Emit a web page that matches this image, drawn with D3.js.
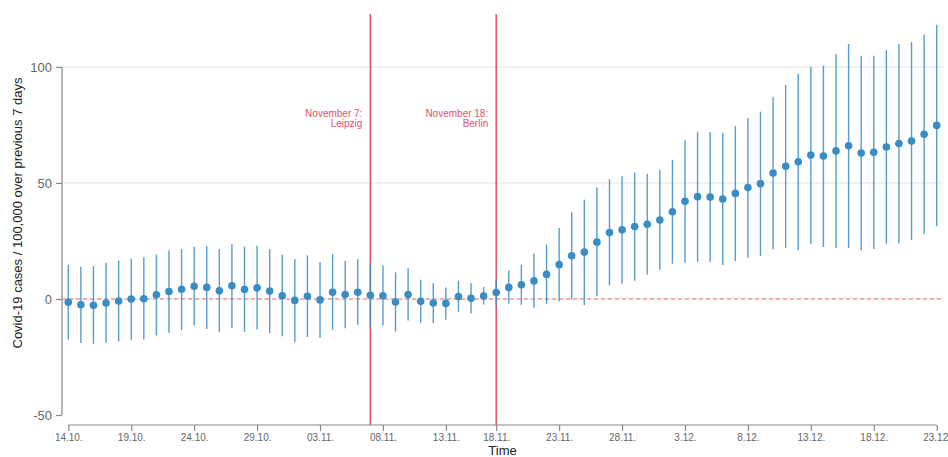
<!DOCTYPE html>
<html>
<head>
<meta charset="utf-8">
<script src="https://cdn.jsdelivr.net/npm/d3@7"></script>
<style>
  body { margin: 0; background: #fff; }
  svg { display: block; font-family: "Liberation Sans", Arial, Helvetica, sans-serif; }
</style>
</head>
<body>
<div class="chart"></div>
<script>
// days on the x axis (15.11. is missing in the source data)
var days = [
  "14.10", "15.10", "16.10", "17.10", "18.10", "19.10", "20.10", "21.10", "22.10", "23.10",
  "24.10", "25.10", "26.10", "27.10", "28.10", "29.10", "30.10", "31.10", "01.11", "02.11",
  "03.11", "04.11", "05.11", "06.11", "07.11", "08.11", "09.11", "10.11", "11.11", "12.11",
  "13.11", "14.11", "16.11", "17.11", "18.11", "19.11", "20.11", "21.11", "22.11", "23.11",
  "24.11", "25.11", "26.11", "27.11", "28.11", "29.11", "30.11", "01.12", "02.12", "03.12",
  "04.12", "05.12", "06.12", "07.12", "08.12", "09.12", "10.12", "11.12", "12.12", "13.12",
  "14.12", "15.12", "16.12", "17.12", "18.12", "19.12", "20.12", "21.12", "22.12", "23.12"
];

// estimated effect (cases / 100,000 over previous 7 days)
var estimate = [
  -1.4, -2.5, -2.7, -1.7, -0.9, 0.0, 0.1, 1.8, 3.2, 4.2,
  5.5, 5.0, 3.5, 5.7, 4.1, 4.8, 3.4, 1.4, -0.6, 1.2,
  -0.4, 2.9, 1.9, 2.9, 1.6, 1.4, -1.3, 1.9, -1.0, -1.7,
  -1.9, 1.1, 0.3, 1.3, 2.8, 5.0, 6.1, 7.8, 10.6, 14.8,
  18.6, 20.2, 24.5, 28.6, 29.8, 31.2, 32.2, 34.0, 37.6, 42.1,
  44.1, 43.9, 43.1, 45.5, 48.0, 49.7, 54.3, 57.2, 59.1, 62.0,
  61.6, 63.8, 66.0, 62.9, 63.2, 65.5, 67.0, 68.1, 71.0, 74.8
];

// lower end of the interval
var lower = [
  -17.5, -19.0, -19.3, -18.9, -18.3, -17.6, -17.5, -15.7, -14.7, -13.4,
  -11.4, -12.9, -14.2, -12.6, -14.2, -13.0, -14.7, -16.1, -18.5, -16.4,
  -16.8, -13.2, -12.6, -11.1, -12.1, -11.4, -14.1, -9.3, -10.3, -10.3,
  -8.9, -5.5, -6.3, -2.4, -2.6, -2.1, -2.5, -4.0, -2.1, -1.0,
  -0.1, -2.6, 1.2, 5.8, 6.6, 7.9, 10.5, 12.6, 15.2, 15.6,
  15.9, 15.9, 14.6, 16.3, 17.8, 18.6, 21.4, 22.0, 21.1, 23.7,
  22.4, 22.0, 22.0, 21.0, 21.5, 23.6, 24.0, 25.4, 28.0, 31.5
];

// upper end of the interval
var upper = [
  14.7, 13.9, 14.2, 15.6, 16.6, 17.3, 18.0, 19.2, 21.0, 21.5,
  22.5, 22.8, 21.5, 23.6, 22.5, 22.9, 21.5, 19.1, 17.2, 18.8,
  15.9, 19.3, 16.5, 17.1, 15.2, 14.4, 11.5, 13.2, 8.3, 6.8,
  4.9, 7.9, 6.9, 5.2, 8.3, 12.3, 14.8, 19.6, 23.4, 30.6,
  37.4, 42.8, 48.1, 51.6, 53.0, 54.5, 53.9, 55.6, 60.0, 68.4,
  72.0, 71.9, 71.5, 74.5, 78.0, 80.7, 87.0, 92.2, 97.0, 100.0,
  100.6, 105.6, 109.9, 104.8, 104.8, 107.3, 109.9, 110.7, 114.0, 118.2
];

var tickDays = ["14.10", "19.10", "24.10", "29.10", "03.11", "08.11", "13.11", "18.11",
                "23.11", "28.11", "03.12", "08.12", "13.12", "18.12", "23.12"];
var tickLabels = ["14.10.", "19.10.", "24.10.", "29.10.", "03.11.", "08.11.", "13.11.", "18.11.",
                  "23.11.", "28.11.", "3.12.", "8.12.", "13.12.", "18.12.", "23.12"];

var yTicks = [-50, 0, 50, 100];
var gridValues = [0, 50, 100];

var eventDays = ["07.11", "18.11"];
var eventLines1 = ["November 7:", "November 18:"];
var eventLines2 = ["Leipzig", "Berlin"];

var data = days.map(function(d, i) {
  return { day: d, est: estimate[i], lo: lower[i], hi: upper[i] };
});

var width = 948, height = 457;
var plotLeft = 62, plotRight = 943, plotTop = 14, plotBottom = 425;

var svg = d3.select(".chart").append("svg")
  .attr("width", width)
  .attr("height", height);

// x: one slot per day in the data
var x = d3.scalePoint().domain(days).range([68.3, 936.7]);
var y = d3.scaleLinear().domain([-54.3, 122.8]).range([plotBottom, plotTop]);

var blue = "#3a8cc4";
var red = "#e2506c";

// grid lines
svg.append("g").selectAll("line")
  .data(gridValues)
  .enter().append("line")
  .attr("x1", plotLeft).attr("x2", plotRight)
  .attr("y1", function(d) { return y(d); })
  .attr("y2", function(d) { return y(d); })
  .attr("stroke", "#e3e3e3")
  .attr("stroke-width", 1);

// zero reference
svg.append("line")
  .attr("x1", plotLeft).attr("x2", plotRight)
  .attr("y1", y(0)).attr("y2", y(0))
  .attr("stroke", "#f08c8c")
  .attr("stroke-opacity", 0.85)
  .attr("stroke-width", 1.5)
  .attr("stroke-dasharray", "4,3");

// event lines
svg.append("g").selectAll("line")
  .data(eventDays)
  .enter().append("line")
  .attr("x1", function(d) { return x(d); })
  .attr("x2", function(d) { return x(d); })
  .attr("y1", plotTop).attr("y2", plotBottom)
  .attr("stroke", red)
  .attr("stroke-width", 1.5);

var ev = svg.append("g").selectAll("text")
  .data(eventDays)
  .enter().append("text")
  .attr("x", function(d) { return x(d) - 8; })
  .attr("y", 117)
  .attr("text-anchor", "end")
  .attr("fill", red)
  .style("font-size", "10px");
ev.append("tspan").text(function(d, i) { return eventLines1[i]; });
ev.append("tspan")
  .attr("x", function(d) { return x(d) - 8; })
  .attr("dy", 10)
  .text(function(d, i) { return eventLines2[i]; });

// error bars
svg.append("g").selectAll("line")
  .data(data)
  .enter().append("line")
  .attr("x1", function(d) { return x(d.day); })
  .attr("x2", function(d) { return x(d.day); })
  .attr("y1", function(d) { return y(d.lo); })
  .attr("y2", function(d) { return y(d.hi); })
  .attr("stroke", blue)
  .attr("stroke-opacity", 0.85)
  .attr("stroke-width", 1.4);

// point estimates
svg.append("g").selectAll("circle")
  .data(data)
  .enter().append("circle")
  .attr("cx", function(d) { return x(d.day); })
  .attr("cy", function(d) { return y(d.est); })
  .attr("r", 3.8)
  .attr("fill", blue);

// y axis
var yAxis = svg.append("g")
  .attr("transform", "translate(" + plotLeft + ",0)")
  .call(d3.axisLeft(y).tickValues(yTicks).tickSize(6).tickPadding(4)
    .tickFormat(function(d) { return String(d); }));
yAxis.select(".domain").remove();
yAxis.append("line")
  .attr("y1", y(-50)).attr("y2", y(100))
  .attr("stroke", "#888").attr("stroke-width", 1.2);
yAxis.selectAll(".tick line").attr("stroke", "#888").attr("stroke-width", 1.2);
yAxis.selectAll(".tick text")
  .attr("fill", "#666")
  .style("font-size", "13px")
  .style("font-family", "'Liberation Sans', Arial, sans-serif");

// x axis
var xAxis = svg.append("g")
  .attr("transform", "translate(0," + plotBottom + ")")
  .call(d3.axisBottom(x).tickValues(tickDays).tickSize(6).tickPadding(3)
    .tickFormat(function(d) { return tickLabels[tickDays.indexOf(d)]; }));
xAxis.select(".domain").remove();
xAxis.append("line")
  .attr("x1", x(tickDays[0])).attr("x2", x(tickDays[tickDays.length - 1]))
  .attr("stroke", "#888").attr("stroke-width", 1.2);
xAxis.selectAll(".tick line").attr("stroke", "#888").attr("stroke-width", 1.2);
xAxis.selectAll(".tick text")
  .attr("fill", "#666")
  .style("font-size", "10px")
  .style("font-family", "'Liberation Sans', Arial, sans-serif");
// keep the last label inside the window
xAxis.selectAll(".tick text")
  .filter(function(d) { return d === tickDays[tickDays.length - 1]; })
  .attr("text-anchor", "end")
  .attr("x", 11);

// axis titles
svg.append("text")
  .attr("x", (plotLeft + plotRight) / 2)
  .attr("y", 455)
  .attr("text-anchor", "middle")
  .attr("fill", "#222")
  .style("font-size", "13px")
  .text("Time");

svg.append("text")
  .attr("transform", "translate(22,213) rotate(-90)")
  .attr("text-anchor", "middle")
  .attr("fill", "#222")
  .style("font-size", "13px")
  .text("Covid-19 cases / 100,000 over previous 7 days");
</script>
</body>
</html>
